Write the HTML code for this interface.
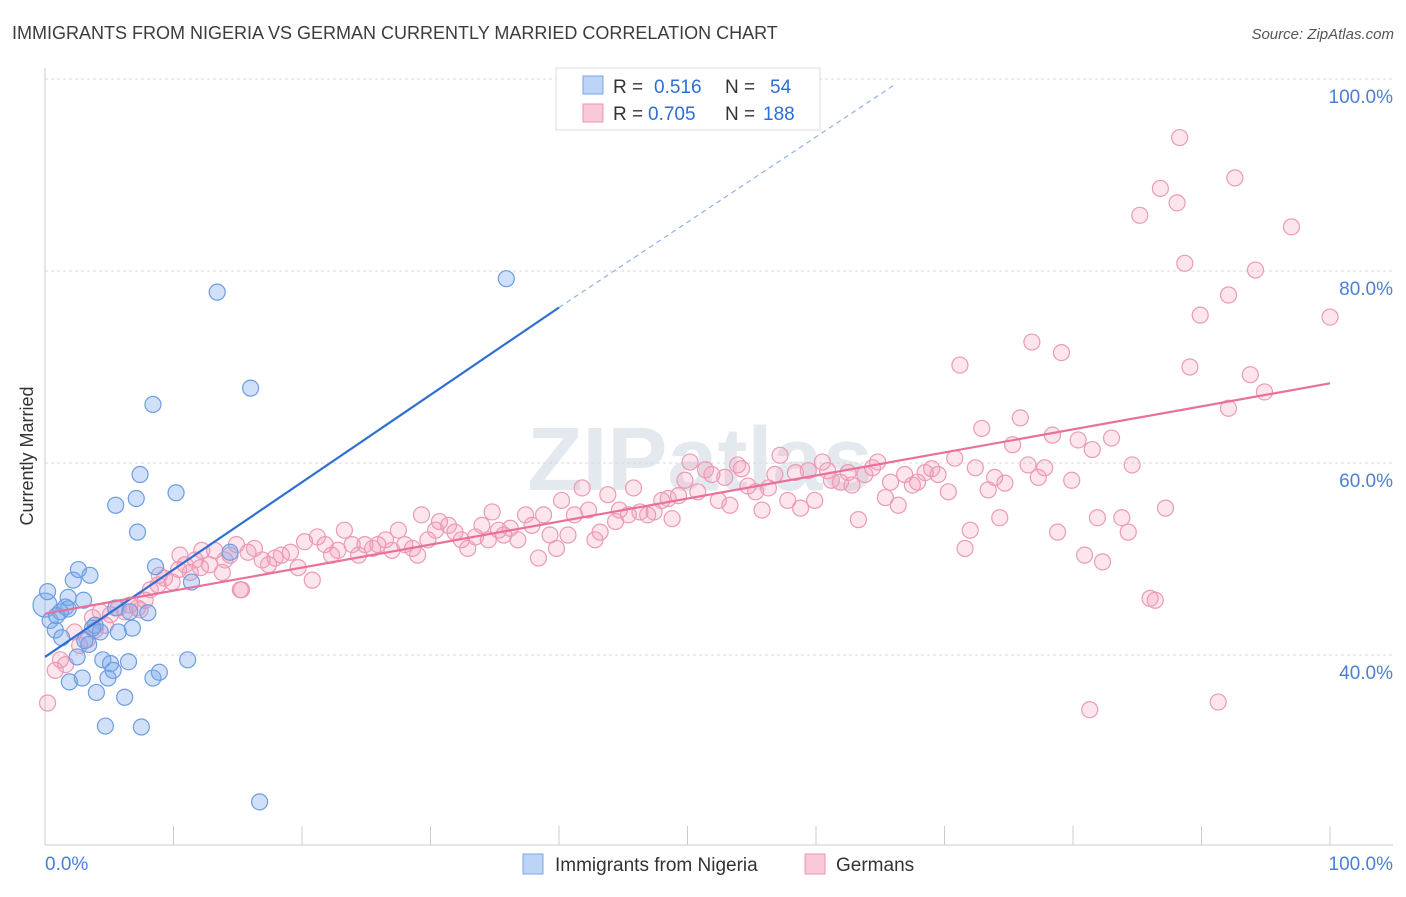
<!DOCTYPE html>
<html><head><meta charset="utf-8">
<style>
body{margin:0;background:#fff;font-family:"Liberation Sans",sans-serif;}
svg text{font-family:"Liberation Sans",sans-serif;}
</style></head>
<body>
<svg id="chart" width="1406" height="892" xmlns="http://www.w3.org/2000/svg">
<text x="12" y="39" font-size="18" fill="#3c3c3c">IMMIGRANTS FROM NIGERIA VS GERMAN CURRENTLY MARRIED CORRELATION CHART</text>
<text x="1394" y="39" font-size="15" fill="#555" font-style="italic" text-anchor="end">Source: ZipAtlas.com</text>
<text x="700" y="490" font-size="90" fill="#e4e8ef" text-anchor="middle" font-family="Liberation Serif" font-weight="bold">ZIPatlas</text>
<g id="grid"></g>
<g id="axes"></g>
<g id="marks"></g>
<text transform="translate(33,456) rotate(-90)" font-size="18" fill="#333" text-anchor="middle">Currently Married</text>
<g>
<rect x="556" y="68" width="264" height="62" fill="#fff" stroke="#ddd"/>
<rect x="583" y="76" width="20" height="18" fill="#bcd4f5" stroke="#7aa5e6"/>
<text x="613" y="93" font-size="19" fill="#333">R =</text><text x="654" y="93" font-size="19" fill="#2b6fd6">0.516</text>
<text x="725" y="93" font-size="19" fill="#333">N =</text><text x="770" y="93" font-size="19" fill="#2b6fd6">54</text>
<rect x="583" y="104" width="20" height="18" fill="#f9c9d8" stroke="#ec93b2"/>
<text x="613" y="120" font-size="19" fill="#333">R =</text><text x="648" y="120" font-size="19" fill="#2b6fd6">0.705</text>
<text x="725" y="120" font-size="19" fill="#333">N =</text><text x="763" y="120" font-size="19" fill="#2b6fd6">188</text>
</g>
<g>
<rect x="523" y="854" width="20" height="20" fill="#bcd4f5" stroke="#7aa5e6"/>
<text x="555" y="871" font-size="19" fill="#333">Immigrants from Nigeria</text>
<rect x="805" y="854" width="20" height="20" fill="#f9c9d8" stroke="#ec93b2"/>
<text x="836" y="871" font-size="19" fill="#333">Germans</text>
</g>
</svg>
<script>
const xTicks=[0,10,20,30,40,50,60,70,80,90,100];
const yTicks=[40,60,80,100];
const yTickLabels=["40.0%","60.0%","80.0%","100.0%"];
const blueX=[0,0.4,0.8,1.2,1.6,1.8,2.2,2.6,3.5,3,1.3,1.9,2.5,2.9,3.4,3.9,4,4.3,4.5,4.7,4.9,5.1,5.3,5.5,5.7,6.2,6.5,6.8,6.6,5.5,7.1,7.2,7.4,8,8.4,8.6,8.4,8.9,7.5,10.2,11.1,11.4,13.4,14.4,16,16.7,35.9,0.2,1.8,0.9,3.1,3.7];
const blueY=[45.2,43.6,42.6,44.5,45,46,47.8,48.9,48.3,45.7,41.8,37.2,39.8,37.6,41.1,43.1,36.1,42.4,39.5,32.6,37.6,39.1,38.4,44.9,42.4,35.6,39.3,42.8,44.5,55.6,56.3,52.8,58.8,44.4,66.1,49.2,37.6,38.2,32.5,56.9,39.5,47.6,77.8,50.7,67.8,24.7,79.2,46.6,44.8,44.1,41.5,42.8];
const pinkX=[0.2,0.8,1.6,2.7,3.3,3.9,4.3,5.1,5.7,6.2,6.6,7.2,7.8,8.2,8.8,9.3,9.9,10.4,10.9,11.3,11.7,12.2,12.8,13.2,13.8,14.4,14.9,15.3,15.8,16.3,16.9,17.4,17.9,18.4,19.1,19.7,20.2,20.8,21.2,21.8,22.3,22.8,23.3,23.9,24.4,24.9,25.5,25.9,26.5,27,27.5,28,28.6,29,29.3,29.8,30.4,30.7,31.4,31.9,32.4,32.9,33.5,34,34.5,34.8,35.3,35.7,36.2,36.8,37.4,37.9,38.4,38.8,39.3,39.8,40.2,40.7,41.2,41.8,42.3,42.8,43.2,43.8,44.4,44.7,45.4,45.8,46.3,46.9,47.4,48,48.5,48.8,49.3,49.8,50.2,50.8,51.4,51.9,52.4,52.9,53.3,53.9,54.2,54.7,55.3,55.8,56.3,56.8,57.2,57.8,58.4,58.8,59.4,59.9,60.5,60.9,61.2,61.9,62.5,62.8,63.3,63.8,64.4,64.8,65.4,65.8,66.4,66.9,67.5,67.9,68.5,69,69.5,70.3,70.8,71.2,71.6,72,72.4,72.9,73.4,73.9,74.7,75.3,74.3,75.9,76.5,76.8,77.3,77.8,78.4,78.8,79.1,79.9,80.4,80.9,81.5,81.9,82.3,83,83.8,84.3,84.6,85.2,86,86.4,86.8,87.2,88.1,88.3,88.7,89.1,89.9,91.3,92.1,92.1,92.6,93.8,94.2,94.9,97,100,81.3,1.2,2.3,3.7,4.7,7.4,8.9,10.5,12.1,14,15.2];
const pinkY=[35,38.4,39,41,41.6,42.6,44.5,44.2,44.9,44.5,45.2,44.9,45.7,46.8,47.3,48,47.6,48.9,49.4,48.6,49.9,50.9,49.4,50.9,48.6,50.4,51.5,46.8,50.7,51.1,49.9,49.4,50.1,50.4,50.7,49.1,51.8,47.8,52.3,51.5,50.4,50.9,53,51.5,50.4,51.5,51.1,51.5,52,50.9,53,51.5,51.1,50.4,54.6,52,53,53.9,53.5,52.8,52,51.1,52.3,53.5,52,54.9,53,52.5,53.2,52,54.6,53.5,50.1,54.6,52.5,51.1,56.1,52.5,54.6,57.4,55.1,52,52.8,56.7,53.9,55.1,54.6,57.4,54.9,54.6,54.9,56.1,56.3,54.2,56.6,58.2,60.1,57,59.3,58.8,56.1,58.5,55.6,59.8,59.4,57.6,57,55.1,57.4,58.8,60.8,56.1,59,55.3,59.2,56.1,60.1,59.2,58.2,58,59,57.7,54.1,58.8,59.5,60.1,56.4,58,55.6,58.8,57.7,58,59,59.4,58.8,57,60.5,70.2,51.1,53,59.5,63.6,57.2,58.5,57.9,61.9,54.3,64.7,59.8,72.6,58.5,59.5,62.9,52.8,71.5,58.2,62.4,50.4,61.4,54.3,49.7,62.6,54.3,52.8,59.8,85.8,45.9,45.7,88.6,55.3,87.1,93.9,80.8,70,75.4,35.1,77.5,65.7,89.7,69.2,80.1,67.4,84.6,75.2,34.3,39.5,42.4,43.9,43.1,44.7,48.3,50.4,49.1,49.9,46.8];
const blueLine=[[0,39.8],[40,76.2]];
const blueDash=[[40,76.2],[66,99.3]];
const pinkLine=[[0,44.3],[100,68.3]];

const NS="http://www.w3.org/2000/svg";
const X=v=>45+v*12.85;
const Y=v=>847-(v-20)*9.6;
function mk(tag,attrs,parent){const e=document.createElementNS(NS,tag);for(const k in attrs)e.setAttribute(k,attrs[k]);parent.appendChild(e);return e;}
const grid=document.getElementById('grid'),axes=document.getElementById('axes'),marks=document.getElementById('marks');
yTicks.forEach((t,i)=>{
 const l=mk('line',{x1:45,x2:1393,y1:Y(t),y2:Y(t),stroke:'#d8d8d8','stroke-dasharray':'3,3'},grid);
 
 
 const tx=mk('text',{x:1393,y:Y(t)+24,'font-size':19,fill:'#4a7fd6','text-anchor':'end'},axes);
 tx.textContent=yTickLabels[i];
 
 
});
mk('line',{x1:45,x2:45,y1:68,y2:845,stroke:'#ccc'},axes);
mk('line',{x1:45,x2:1393,y1:845,y2:845,stroke:'#ccc'},axes);
xTicks.forEach(t=>{
 const tk=mk('line',{x1:X(t),x2:X(t),y1:826,y2:845,stroke:'#ccc'},axes);
 
 
});
const xl=mk('text',{x:45,y:870,'font-size':19,fill:'#4a7fd6'},axes);xl.textContent='0.0%';


const xr=mk('text',{x:1393,y:870,'font-size':19,fill:'#4a7fd6','text-anchor':'end'},axes);xr.textContent='100.0%';



pinkX.forEach((v,i)=>{
 const c=mk('circle',{cx:X(v),cy:Y(pinkY[i]),r:8,fill:'rgba(244,150,182,0.25)',stroke:'#ec9ab6','stroke-width':1.2},marks);
 
 
});
blueX.forEach((v,i)=>{
 const c=mk('circle',{cx:X(v),cy:Y(blueY[i]),r:i===0?12:8,fill:'rgba(120,165,235,0.35)',stroke:'#6d9de2','stroke-width':1.2},marks);
 
 
});
const bl=mk('line',{x1:X(blueLine[0][0]),y1:Y(blueLine[0][1]),x2:X(blueLine[1][0]),y2:Y(blueLine[1][1]),stroke:'#2f6fd3','stroke-width':2.2},marks);


const bd=mk('line',{x1:X(blueDash[0][0]),y1:Y(blueDash[0][1]),x2:X(blueDash[1][0]),y2:Y(blueDash[1][1]),stroke:'#8fb2e8','stroke-width':1.2,'stroke-dasharray':'5,4'},marks);


const pl=mk('line',{x1:X(pinkLine[0][0]),y1:Y(pinkLine[0][1]),x2:X(pinkLine[1][0]),y2:Y(pinkLine[1][1]),stroke:'#e8709a','stroke-width':2.2},marks);


</script>
</body></html>
